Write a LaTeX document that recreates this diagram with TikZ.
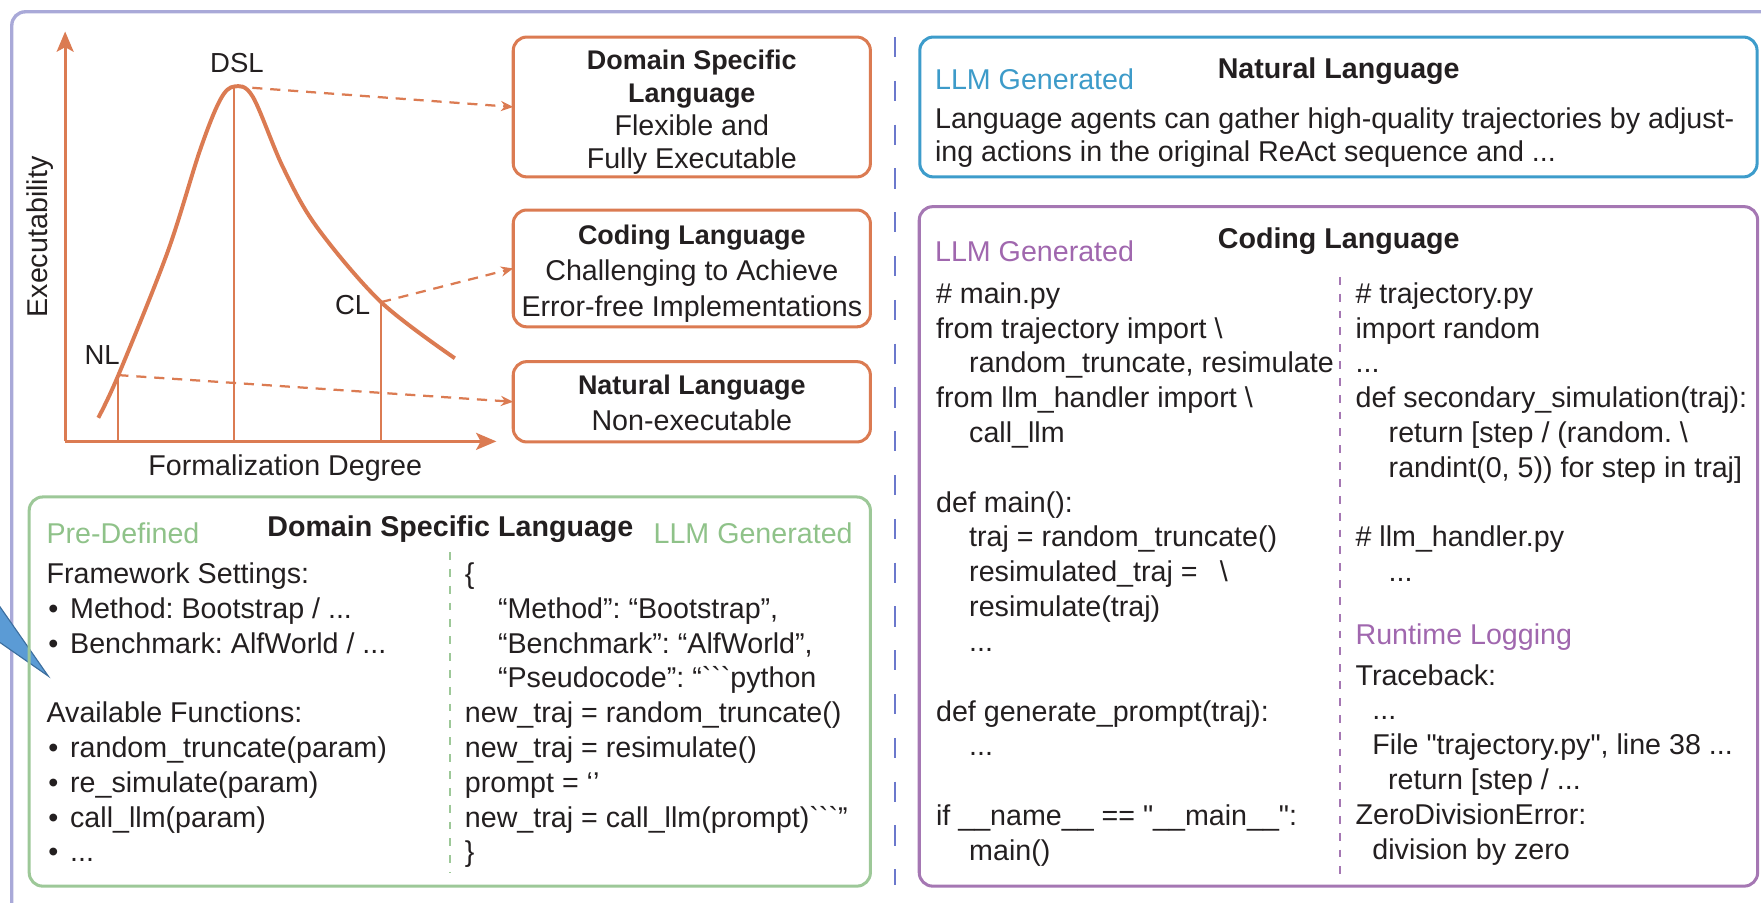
\documentclass[tikz,border=0pt]{standalone}
\usepackage{fontspec}
\setmainfont{Liberation Sans}
\newfontfamily\rawfont{Liberation Sans}
\usetikzlibrary{arrows.meta}

\definecolor{orng}{HTML}{DB7B52}
\definecolor{framec}{HTML}{A9A9D8}
\definecolor{divd}{HTML}{6B78CC}
\definecolor{grn}{HTML}{9DC898}
\definecolor{grntxt}{HTML}{8FC289}
\definecolor{blu}{HTML}{3D9CCB}
\definecolor{blutxt}{HTML}{3D9BC9}
\definecolor{prp}{HTML}{A577B3}
\definecolor{prptxt}{HTML}{A067AE}
\definecolor{ink}{HTML}{231F20}
\definecolor{wedgec}{HTML}{5B9BD5}
\definecolor{wedgedk}{HTML}{3C6E9E}

\newcommand{\fsn}{\fontsize{25.5}{31}\selectfont}
\newcommand{\ttlfont}{\bfseries\fontsize{24}{29}\selectfont}
\newcommand{\mylines}[2]{\begin{tabular}[t]{@{}#1@{}}#2\end{tabular}}
\newcommand{\bul}{\makebox[21pt][l]{\hspace{1.5pt}•}}
\newcommand{\ind}{\hspace{29.5pt}}
\newcommand{\bt}{{\rawfont```}}
\newcommand{\sq}{{\rawfont"}}
\frenchspacing

\begin{document}
\begin{tikzpicture}[x=1pt, y=-1pt,
  txt/.style={inner sep=0pt, outer sep=0pt, text=ink, font=\fsn},
  boldtxt/.style={txt, font=\bfseries\fsn},
  lbl/.style={txt, font=\fontsize{24.5}{29}\selectfont},
  panel/.style={draw, rounded corners=12pt, line width=2.7pt, anchor=north west, inner sep=0pt, outer sep=0pt},
  framestyle/.style={draw=framec, line width=3pt, rounded corners=12pt},
  axisline/.style={draw=orng, line width=2.8pt, -{Stealth[length=18pt, width=15pt, inset=4pt]}},
  curveline/.style={draw=orng, line width=3.5pt},
  vline/.style={draw=orng, line width=1.6pt},
  dasharr/.style={draw=orng, line width=2pt, dash pattern=on 9pt off 7pt, -{Stealth[length=11pt, width=9pt]}},
  divline/.style={draw=divd, line width=2pt, dash pattern=on 18pt off 21pt},
  gdash/.style={draw=grn, line width=2pt, dash pattern=on 7pt off 8pt},
  pdash/.style={draw=prp, line width=2pt, dash pattern=on 7pt off 8pt}
]
\useasboundingbox (0,0) rectangle (1568,804);

% outer frame (cut by the picture edge)
\begin{scope}
  \clip (0,0) rectangle (1568,804);
  \draw[framestyle] (10.5,10.5) rectangle (1640,880);
  \fill[wedgec, draw=wedgedk, line width=1pt] (-3,536) -- (43,602) -- (-3,570) -- cycle;
\end{scope}

% ---------- chart ----------
\coordinate (o) at (58,393);
\coordinate (ytip) at (58,28);
\coordinate (xtip) at (442,393);
\draw[axisline] (o) -- (ytip);
\draw[axisline] (o) -- (xtip);

\coordinate (c0) at (87.5,372);
\coordinate (nl) at (105.4,334);
\coordinate (c2) at (149,225);
\coordinate (c3) at (178,134);
\coordinate (c4) at (196,89);
\coordinate (peak) at (208.7,77);
\coordinate (c6) at (225,86);
\coordinate (c7) at (252,149);
\coordinate (c8) at (282,202);
\coordinate (cl) at (339.3,269);
\coordinate (c10) at (405,319);
\draw[curveline] plot[smooth, tension=0.55] coordinates {(c0) (nl) (c2) (c3) (c4) (peak) (c6) (c7) (c8) (cl) (c10)};

\draw[vline] (nl) -- (nl |- o);
\draw[vline] (peak) -- (peak |- o);
\draw[vline] (cl) -- (cl |- o);

\node[lbl] (dsllab) at (211,56) {DSL};
\node[lbl] (nllab) at (91,316) {NL};
\node[lbl] (cllab) at (314,272) {CL};
\node[txt, rotate=90] (ylab) at (36,211) {Executability};
\node[txt, anchor=base] (xlab) at (254,423) {Formalization Degree};

% ---------- orange boxes ----------
\node[panel, draw=orng, minimum width=318pt, minimum height=124.5pt] (dslbox) at (457,33) {};
\node[panel, draw=orng, minimum width=318pt, minimum height=104pt] (clbox) at (457,187) {};
\node[panel, draw=orng, minimum width=318pt, minimum height=71.5pt] (nlbox) at (457,322) {};

\node[txt, anchor=base, font=\fontsize{25.5}{29.3}\selectfont] (dsltxt) at (616,62)
  {\mylines{c}{{\ttlfont Domain Specific}\\ {\ttlfont Language}\\ Flexible and\\ Fully Executable}};
\node[txt, anchor=base, font=\fontsize{25.5}{32}\selectfont] (cltxt) at (616,217.6)
  {\mylines{c}{{\ttlfont Coding Language}\\ Challenging to Achieve\\ Error-free Implementations}};
\node[txt, anchor=base, font=\fontsize{25.5}{32}\selectfont] (nltxt) at (616,351.4)
  {\mylines{c}{{\ttlfont Natural Language}\\ Non-executable}};

\draw[dasharr] (peak) -- (dslbox.west);
\draw[dasharr] (cl) -- (clbox.west);
\draw[dasharr] (nl) -- (nlbox.west);

% ---------- divider ----------
\coordinate (dtop) at (797,33);
\coordinate (dbot) at (797,788);
\draw[divline] (dtop) -- (dbot);

% ---------- green panel ----------
\node[panel, draw=grn, minimum width=749pt, minimum height=346.5pt] (dslpanel) at (26,442.5) {};
\node[boldtxt, anchor=base] (dsltitle) at (401,478) {Domain Specific Language};
\node[txt, text=grntxt, anchor=base west] (predef) at (41.5,484) {Pre-Defined};
\node[txt, text=grntxt, anchor=base west] (ggen) at (582,484) {LLM Generated};
\node[txt, anchor=base west] (gleft) at (41.5,519.5)
  {\mylines{l}{Framework Settings:\\ \bul Method: Bootstrap / ...\\ \bul Benchmark: AlfWorld / ...\\ \\ Available Functions:\\ \bul random\_truncate(param)\\ \bul re\_simulate(param)\\ \bul call\_llm(param)\\ \bul ...}};
\node[txt, anchor=base west] (gright) at (414,519.5)
  {\mylines{l}{\{\\ \ind “Method”: “Bootstrap”,\\ \ind “Benchmark”: “AlfWorld”,\\ \ind “Pseudocode”: “\bt python\\ new\_traj = random\_truncate()\\ new\_traj = resimulate()\\ prompt = ‘’\\ new\_traj = call\_llm(prompt)\bt”\\ \}}};
\coordinate (gtop) at (400.7,491.5);
\coordinate (gbot) at (400.7,777);
\draw[gdash] (gtop) -- (gbot);

% ---------- blue panel ----------
\node[panel, draw=blu, minimum width=745.5pt, minimum height=124.5pt] (nlpanel) at (819,33) {};
\node[boldtxt, anchor=base] (nltitle) at (1192,70) {Natural Language};
\node[txt, text=blutxt, anchor=base west] (bgen) at (832.6,80) {LLM Generated};
\node[txt, anchor=base west, font=\fontsize{25.5}{30}\selectfont] (nlbody) at (832.6,114)
  {\mylines{l}{Language agents can gather high-quality trajectories by adjust-\\ ing actions in the original ReAct sequence and ...}};

% ---------- purple panel ----------
\node[panel, draw=prp, minimum width=746.5pt, minimum height=605pt] (clpanel) at (818.5,184) {};
\node[boldtxt, anchor=base] (cltitle) at (1192,221) {Coding Language};
\node[txt, text=prptxt, anchor=base west] (pgen) at (832.6,233) {LLM Generated};
\node[txt, anchor=base west] (pleft) at (833.5,270)
  {\mylines{l}{\# main.py\\ from trajectory import \textbackslash\\ \ind random\_truncate, resimulate\\ from llm\_handler import \textbackslash\\ \ind call\_llm\\ \\ def main():\\ \ind traj = random\_truncate()\\ \ind resimulated\_traj = \hspace{0.5em}\textbackslash\\ \ind resimulate(traj)\\ \ind ...\\ \\ def generate\_prompt(traj):\\ \ind ...\\ \\ if \_\_name\_\_ == \sq\_\_main\_\_\sq:\\ \ind main()}};
\node[txt, anchor=base west] (pright) at (1207,270)
  {\mylines{l}{\# trajectory.py\\ import random\\ ...\\ def secondary\_simulation(traj):\\ \ind return [step / (random. \textbackslash\\ \ind randint(0, 5)) for step in traj]\\ \\ \# llm\_handler.py\\ \ind ...}};
\node[txt, text=prptxt, anchor=base west] (rtlog) at (1207,574) {Runtime Logging};
\node[txt, anchor=base west] (trace) at (1207,610)
  {\mylines{l}{Traceback:\\ \hspace{15pt}...\\ \hspace{15pt}File \sq trajectory.py\sq, line 38 ...\\ \hspace{29pt}return [step / ...\\ ZeroDivisionError:\\ \hspace{15pt}division by zero}};
\coordinate (ptop) at (1193,246.5);
\coordinate (pbot) at (1193,782);
\draw[pdash] (ptop) -- (pbot);
\end{tikzpicture}
\end{document}
